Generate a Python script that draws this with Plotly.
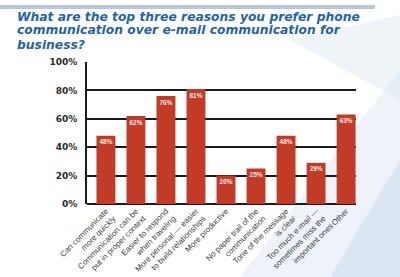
import plotly.graph_objects as go

categories = [
    "Can communicate<br>more quickly",
    "Communication can be<br>put in proper context",
    "Easier to respond<br>when traveling",
    "More personal — easier<br>to build relationships",
    "More productive",
    "No paper trail of the<br>communication",
    "Tone of the message<br>is clear",
    "Too much e-mail —<br>sometimes miss the<br>important ones",
    "Other",
]
values = [48, 62, 76, 81, 20, 25, 48, 29, 63]
y_ticks = [0, 20, 40, 60, 80, 100]
y_tick_labels = ["0%", "20%", "40%", "60%", "80%", "100%"]
title_lines = [
    "What are the top three reasons you prefer phone",
    "communication over e-mail communication for",
    "business?",
]

W, H = 400, 277
ml, mr, mt, mb = 87, 44, 62, 73
PW, PH = W - ml - mr, H - mt - mb


def px(x):
    return (x - ml) / PW


def py(y):
    return (H - mb - y) / PH


fig = go.Figure()
fig.add_trace(go.Bar(
    x=list(range(len(categories))),
    y=values,
    marker=dict(color="#C23B27", line=dict(width=0)),
    width=0.63,
    text=[f"<b>{v}%</b>" for v in values],
    textposition="inside",
    insidetextanchor="end",
    textfont=dict(color="#FDEDEA", size=8, family="Liberation Sans"),
    textangle=0,
    cliponaxis=False,
))

shapes = [
    dict(type="rect", xref="paper", yref="paper",
         x0=px(0), x1=px(375), y0=py(9), y1=py(5),
         fillcolor="#B9C6D4", line=dict(width=0), layer="below"),
    dict(type="path", xref="paper", yref="paper",
         path=f"M {px(240)} {py(277)} L {px(400)} {py(70)} L {px(400)} {py(277)} Z",
         fillcolor="rgba(205,222,238,0.35)", line=dict(width=0), layer="below"),
    dict(type="path", xref="paper", yref="paper",
         path=f"M {px(330)} {py(277)} L {px(400)} {py(160)} L {px(400)} {py(277)} Z",
         fillcolor="rgba(185,206,228,0.35)", line=dict(width=0), layer="below"),
    dict(type="path", xref="paper", yref="paper",
         path=f"M {px(290)} {py(40)} L {px(400)} {py(15)} L {px(400)} {py(100)} Z",
         fillcolor="rgba(215,228,240,0.4)", line=dict(width=0), layer="below"),
]

title_centers = [16.5, 30.5, 44.5]
annotations = [
    dict(text=f"<b><i>{line}</i></b>", xref="paper", yref="paper",
         x=px(16), y=py(cy), xanchor="left", yanchor="middle", align="left",
         showarrow=False, borderpad=0,
         font=dict(family="DejaVu Sans", size=12.3, color="#1F63A8"))
    for line, cy in zip(title_lines, title_centers)
]

fig.update_layout(
    width=W, height=H,
    margin=dict(l=ml, r=mr, t=mt, b=mb, autoexpand=False),
    paper_bgcolor="white",
    plot_bgcolor="rgba(0,0,0,0)",
    showlegend=False,
    shapes=shapes,
    annotations=annotations,
    xaxis=dict(
        tickmode="array",
        tickvals=list(range(len(categories))),
        ticktext=categories,
        tickangle=-45,
        range=[-0.63, 8.33],
        showgrid=False,
        showline=False,
        zeroline=False,
        ticks="",
        automargin=False,
        tickfont=dict(family="Liberation Sans", size=8, color="#3A3A3A"),
    ),
    yaxis=dict(
        range=[0, 100],
        tickmode="array",
        tickvals=y_ticks,
        ticktext=[f"<b>{t}</b>" for t in y_tick_labels],
        showgrid=True,
        gridcolor="#1A1A1A",
        gridwidth=1.6,
        showline=True,
        linecolor="#1A1A1A",
        linewidth=2,
        zeroline=True,
        zerolinecolor="#1A1A1A",
        zerolinewidth=2,
        ticks="",
        automargin=False,
        ticklabelstandoff=6,
        tickfont=dict(family="DejaVu Sans", size=9, color="#2A2A2A"),
    ),
)

fig.write_html("out.html")
